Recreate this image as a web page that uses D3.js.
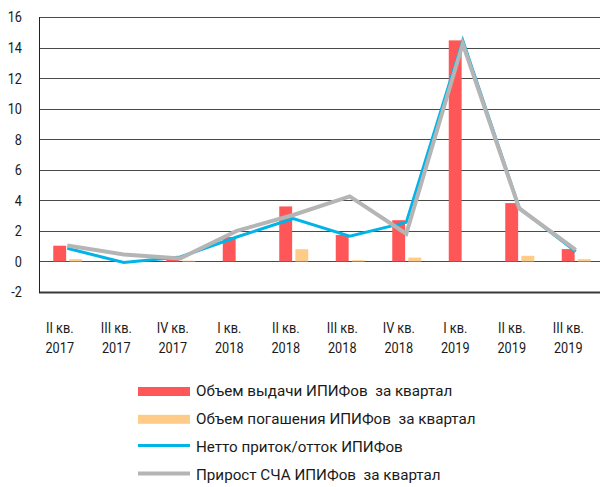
<!DOCTYPE html>
<html>
<head>
<meta charset="utf-8">
<script src="https://cdn.jsdelivr.net/npm/d3@7"></script>
<style>
    body { margin: 0; background: #fff; }
    svg { display: block; font-family: Roboto, "Open Sans", sans-serif; }
</style>
</head>
<body>
<div id="chart"></div>
<script>
"use strict";

const quarters = ["II кв.", "III кв.", "IV кв.", "I кв.", "II кв.", "III кв.", "IV кв.", "I кв.", "II кв.", "III кв."];
const years = ["2017", "2017", "2017", "2018", "2018", "2018", "2018", "2019", "2019", "2019"];

// млрд руб.
const issued = [1.03, 0, 0.15, 1.6, 3.6, 1.73, 2.7, 14.47, 3.82, 0.81];
const redeemed = [0.15, 0, 0.05, 0, 0.8, 0.08, 0.25, 0, 0.37, 0.15];
const netFlow = [0.86, -0.07, 0.29, 1.6, 2.8, 1.65, 2.56, 14.47, 3.5, 0.64];
const navGrowth = [1.05, 0.46, 0.2, 2.0, 3.04, 4.26, 1.81, 14.25, 3.47, 0.75];

const yTicks = [-2, 0, 2, 4, 6, 8, 10, 12, 14, 16];

const legendNames = [
    "Объем выдачи ИПИФов  за квартал",
    "Объем погашения ИПИФов  за квартал",
    "Нетто приток/отток ИПИФов",
    "Прирост СЧА ИПИФов  за квартал"
];

const colors = {
    issued: "#ff5757",
    redeemed: "#ffcb88",
    net: "#00b4e8",
    nav: "#b5b5b5"
};

let width = 600, height = 487;
let plot = { left: 39, right: 604, top: 17, bottom: 292 };
let narrow = 0.82; // axis font in the original is condensed

let svg = d3.select("#chart").append("svg")
    .attr("width", width)
    .attr("height", height);

let idx = d3.range(quarters.length);

let x = d3.scaleBand()
    .domain(idx)
    .range([plot.left, plot.right])
    .padding(0);

let xInner = d3.scaleBand()
    .domain(["issued", "redeemed"])
    .range([-14, 15])
    .paddingInner(0.2);

let y = d3.scaleLinear()
    .domain([-2, 16])
    .range([plot.bottom, plot.top]);

let cx = i => x(i) + x.bandwidth() / 2;

// gridlines
svg.append("g")
    .selectAll("line")
    .data(yTicks)
    .enter().append("line")
    .attr("x1", plot.left)
    .attr("x2", width)
    .attr("y1", d => Math.round(y(d)) + 0.5)
    .attr("y2", d => Math.round(y(d)) + 0.5)
    .style("stroke", d => d === -2 ? "#3a3a3a" : "#4a4a4a")
    .style("stroke-width", d => d === -2 ? 2 : 1);

// left axis line
svg.append("line")
    .attr("x1", plot.left + 0.5).attr("x2", plot.left + 0.5)
    .attr("y1", y(16)).attr("y2", y(-2) + 1)
    .style("stroke", "#222")
    .style("stroke-width", 1);

// y labels
svg.append("g")
    .selectAll("text")
    .data(yTicks)
    .enter().append("text")
    .attr("transform", d => "translate(22," + y(d) + ") scale(" + narrow + ",1)")
    .attr("dy", "0.35em")
    .attr("text-anchor", "end")
    .style("font-size", "15.5px")
    .style("fill", "#1a1a1a")
    .text(d => d);

// bars
let bars = svg.append("g");
bars.selectAll(".issued")
    .data(issued)
    .enter().append("rect")
    .attr("class", "issued")
    .attr("x", (d, i) => cx(i) + xInner("issued"))
    .attr("width", xInner.bandwidth())
    .attr("y", d => y(Math.max(d, 0)))
    .attr("height", d => Math.abs(y(d) - y(0)))
    .style("fill", colors.issued);

bars.selectAll(".redeemed")
    .data(redeemed)
    .enter().append("rect")
    .attr("class", "redeemed")
    .attr("x", (d, i) => cx(i) + xInner("redeemed"))
    .attr("width", xInner.bandwidth())
    .attr("y", d => y(Math.max(d, 0)))
    .attr("height", d => Math.abs(y(d) - y(0)))
    .style("fill", colors.redeemed);

// lines
let line = d3.line()
    .x((d, i) => cx(i))
    .y(d => y(d));

svg.append("path")
    .datum(netFlow)
    .attr("d", line)
    .style("fill", "none")
    .style("stroke", colors.net)
    .style("stroke-width", 3);

svg.append("path")
    .datum(navGrowth)
    .attr("d", line)
    .style("fill", "none")
    .style("stroke", colors.nav)
    .style("stroke-width", 4);

// x labels
let xLabels = svg.append("g")
    .selectAll("text")
    .data(idx)
    .enter().append("text")
    .attr("transform", i => "translate(" + (cx(i) - 7.5) + ",0) scale(" + narrow + ",1)")
    .attr("text-anchor", "middle")
    .style("font-size", "15.5px")
    .style("fill", "#1a1a1a");

xLabels.append("tspan")
    .attr("x", 0)
    .attr("y", 333)
    .text(i => quarters[i]);

xLabels.append("tspan")
    .attr("x", 0)
    .attr("y", 353)
    .text(i => years[i]);

// legend
let legend = svg.append("g")
    .attr("transform", "translate(138, 391)");

let legendItems = legend.selectAll("g")
    .data(legendNames)
    .enter().append("g")
    .attr("transform", (d, i) => "translate(0," + i * 27.8 + ")");

legendItems.each(function(d, i) {
    let g = d3.select(this);
    if (i < 2) {
        g.append("rect")
            .attr("x", 0).attr("y", -4)
            .attr("width", 52).attr("height", 9)
            .style("fill", i === 0 ? colors.issued : colors.redeemed);
    } else {
        g.append("line")
            .attr("x1", 0).attr("x2", 52)
            .attr("y1", -1).attr("y2", -1)
            .style("stroke", i === 2 ? colors.net : colors.nav)
            .style("stroke-width", i === 2 ? 3 : 4);
    }
    g.append("text")
        .attr("x", 58)
        .attr("y", 0)
        .attr("dy", "0.35em")
        .style("font-size", "15.2px")
        .style("fill", "#1a1a1a")
        .style("white-space", "pre")
        .text(d);
});
</script>
</body>
</html>
